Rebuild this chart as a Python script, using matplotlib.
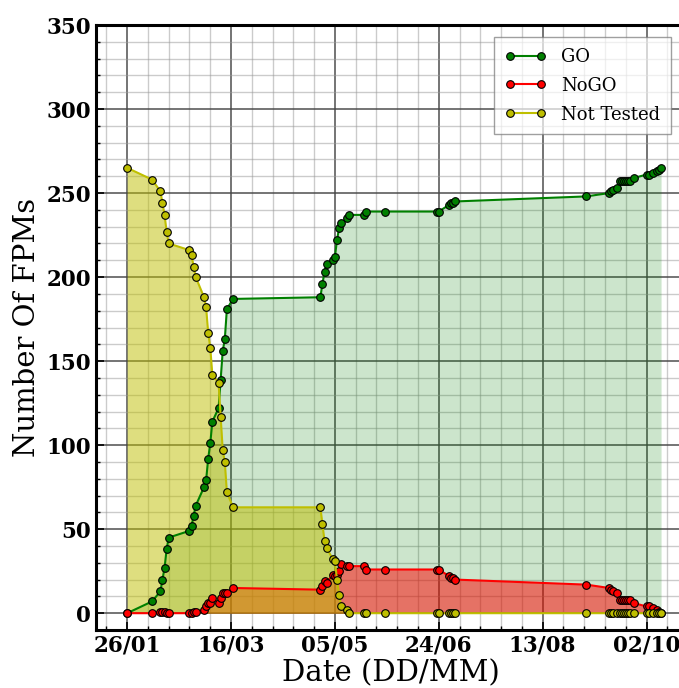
import matplotlib
matplotlib.use("Agg")
import matplotlib.pyplot as plt
import matplotlib.dates as mdates
import pandas as pd

# ---- data ----
dates = ["2016-01-26", "2016-02-07", "2016-02-11", "2016-02-12", "2016-02-13", "2016-02-14",
         "2016-02-15", "2016-02-25", "2016-02-26", "2016-02-27", "2016-02-28", "2016-03-03",
         "2016-03-04", "2016-03-05", "2016-03-06", "2016-03-07", "2016-03-10", "2016-03-11",
         "2016-03-12", "2016-03-13", "2016-03-14", "2016-03-17", "2016-04-28", "2016-04-29",
         "2016-04-30", "2016-05-01", "2016-05-04", "2016-05-05", "2016-05-06", "2016-05-07",
         "2016-05-08", "2016-05-11", "2016-05-12", "2016-05-19", "2016-05-20", "2016-05-29",
         "2016-06-23", "2016-06-24", "2016-06-29", "2016-06-30", "2016-07-01", "2016-07-02",
         "2016-09-03", "2016-09-14", "2016-09-15", "2016-09-16", "2016-09-18", "2016-09-19",
         "2016-09-20", "2016-09-21", "2016-09-22", "2016-09-23", "2016-09-24", "2016-09-26",
         "2016-10-02", "2016-10-03", "2016-10-05", "2016-10-07", "2016-10-08", "2016-10-09"]
go = [0, 7, 13, 20, 27, 38, 45, 49, 52, 58, 64, 75, 79, 92, 101, 114, 122, 139, 156, 163, 181, 187,
      188, 196, 203, 208, 210, 212, 222, 229, 232, 235, 237, 237, 239, 239, 239, 239, 243, 244, 244,
      245, 248, 250, 251, 252, 253, 257, 257, 257, 257, 257, 257, 259, 261, 261, 262, 263, 264, 265]
nogo = [0, 0, 1, 1, 1, 0, 0, 0, 0, 1, 1, 2, 4, 6, 6, 9, 6, 9, 12, 12, 12, 15,
        14, 16, 19, 18, 23, 22, 23, 25, 29, 28, 28, 28, 26, 26, 26, 26, 22, 21, 21,
        20, 17, 15, 14, 13, 12, 8, 8, 8, 8, 8, 8, 6, 4, 4, 3, 2, 1, 0]
not_tested = [265, 258, 251, 244, 237, 227, 220, 216, 213, 206, 200, 188, 182, 167, 158, 142, 137, 117,
              97, 90, 72, 63, 63, 53, 43, 39, 32, 31, 20, 11, 4, 2, 0, 0, 0, 0, 0, 0, 0, 0, 0,
              0, 0, 0, 0, 0, 0, 0, 0, 0, 0, 0, 0, 0, 0, 0, 0, 0, 0, 0]
tick_dates = ["2016-01-26", "2016-03-16", "2016-05-05", "2016-06-24", "2016-08-13", "2016-10-02"]

x = pd.to_datetime(dates)
ticks = pd.to_datetime(tick_dates)

plt.rcParams['font.family'] = ['DejaVu Serif']

fig = plt.figure(figsize=(6.79, 6.88), dpi=100)
ax = fig.add_axes([96/679, 58/688, 590/679, 605/688])

series = [(go, 'g', 'GO', 0.2), (nogo, 'r', 'NoGO', 0.5), (not_tested, 'y', 'Not Tested', 0.5)]
for vals, c, lab, a in series:
    ax.fill_between(x, 0, vals, color=c, alpha=a, linewidth=0, zorder=1)
for vals, c, lab, a in series:
    ax.plot(x, vals, '-o', color=c, markerfacecolor=c, markeredgecolor='black',
            markeredgewidth=0.8, markersize=5.5, linewidth=1.5, label=lab, zorder=3)

ax.set_xlim(pd.Timestamp("2016-01-11"), pd.Timestamp("2016-10-21"))
ax.set_ylim(-10, 350)
ax.set_xticks(ticks)
ax.xaxis.set_major_formatter(mdates.DateFormatter('%d/%m'))
minor_x = pd.date_range("2016-01-16", "2016-10-20", freq="10D")
ax.set_xticks(minor_x, minor=True)
ax.set_yticks(range(0, 351, 50))
ax.set_yticks(range(0, 351, 10), minor=True)

ax.set_axisbelow(True)
ax.grid(which='major', color='#444444', linewidth=1.3, alpha=0.8)
ax.grid(which='minor', color='#999999', linewidth=1.0, alpha=0.5)

for s in ax.spines.values():
    s.set_linewidth(2.2)
ax.tick_params(which='both', direction='in', labelsize=15.5)
ax.tick_params(which='major', length=6, width=1.2)
ax.tick_params(which='minor', length=3, width=1)
for lab in ax.get_xticklabels() + ax.get_yticklabels():
    lab.set_fontweight('bold')

ax.set_xlabel('Date (DD/MM)', fontsize=21, labelpad=2)
ax.set_ylabel('Number Of FPMs', fontsize=21, labelpad=4)

leg = ax.legend(loc='upper right', numpoints=2, fontsize=13, fancybox=False, framealpha=0.7,
                edgecolor='#777777', handlelength=2.3, borderpad=0.6, labelspacing=0.6,
                borderaxespad=0)
leg.set_bbox_to_anchor((671/679, 651/688), transform=fig.transFigure)

fig.savefig('out.png', dpi=100)
